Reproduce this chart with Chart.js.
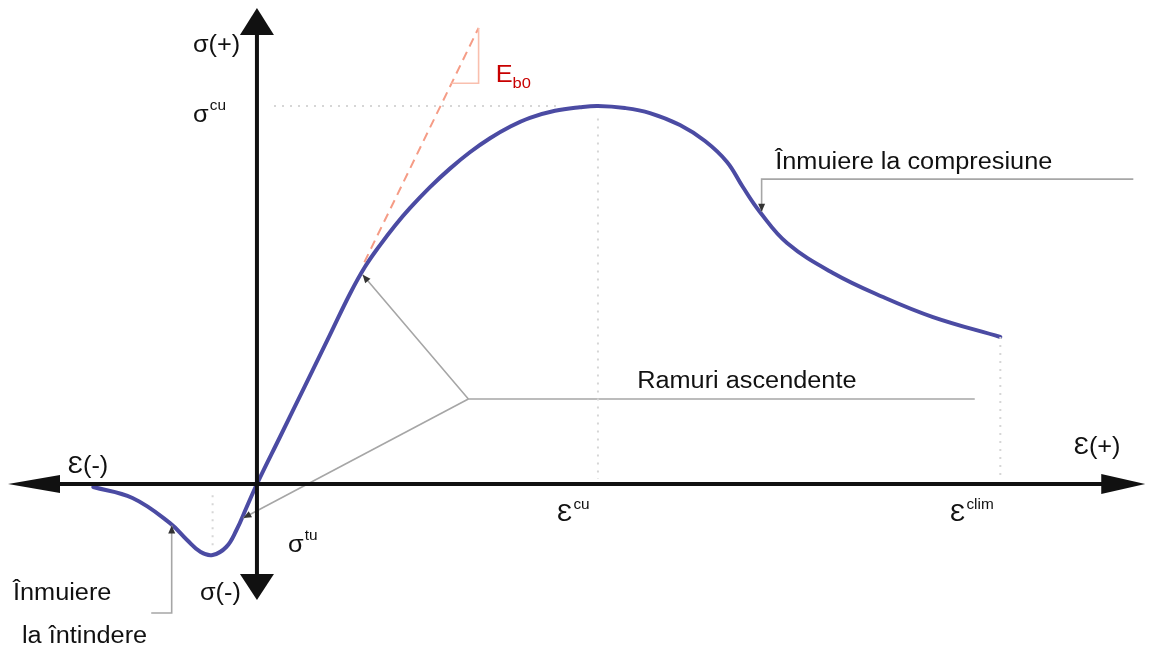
<!DOCTYPE html>
<html lang="ro">
<head>
<meta charset="utf-8">
<title>Diagrama efort - deformatie</title>
<script src="https://cdn.jsdelivr.net/npm/chart.js@4/dist/chart.umd.min.js"></script>
<style>
body { margin: 0; background: #fff; }
canvas { display: block; }
</style>
</head>
<body>
<canvas id="diagrama" width="1149" height="646"></canvas>
<script>
/* curba efort - deformatie: ε in ‰, σ in MPa */
var eps = [-0.96, -0.73, -0.51, -0.41, -0.33, -0.26, -0.18, -0.12, -0.06, 0,
    0.135, 0.282, 0.428, 0.545, 0.633, 0.721, 0.809, 0.897, 1.015, 1.132, 1.249,
    1.367, 1.484, 1.601, 1.748, 1.894, 2.0, 2.158, 2.305, 2.481, 2.628, 2.757, 2.85,
    2.95, 3.109, 3.378, 3.672, 3.965, 4.36];
var sigma = [-0.24, -1.11, -3.10, -4.44, -5.40, -5.63, -5.00, -3.65, -1.83, 0,
    3.73, 7.78, 11.83, 15.08, 17.22, 18.94, 20.50, 21.89, 23.56, 25.03, 26.33,
    27.44, 28.35, 29.06, 29.62, 29.90, 30.0, 29.84, 29.44, 28.49, 27.22, 25.56, 23.57,
    21.59, 19.13, 16.75, 14.84, 13.25, 11.67];

/* valori caracteristice */
var epsCu = 2.0;
var sigmaCu = 30.0;
var epsClim = 4.36;
var sigmaClim = 11.67;
var epsTu = -0.26;
var sigmaTu = -5.63;

/* tangenta initiala (modulul Eb0) si triunghiul pantei */
var tangEps = [0.63, 1.30];
var tangSigma = [17.6, 36.2];
var triEps = [1.14, 1.30, 1.30];
var triSigma = [31.8, 31.8, 36.2];

/* limitele axelor */
var epsMin = -1.507, epsMax = 5.232;
var sigmaMin = -12.857, sigmaMax = 38.413;

/* linii de indicatie catre curba */
var indicatii = [
    { x: [5.14, 2.96, 2.96], y: [24.2, 24.2, 21.6], sageata: true },
    { x: [4.21, 1.24, 0.62], y: [6.75, 6.75, 16.6], sageata: true },
    { x: [1.24, -0.08], y: [6.75, -2.7], sageata: true },
    { x: [-0.62, -0.50, -0.50], y: [-10.24, -10.24, -3.3], sageata: true }
];

/* texte: pozitia in coordonatele graficului */
var etichete = [
    { t: "σ(+)", x: -0.375, y: 34.3 },
    { t: "σ", sup: "cu", x: -0.375, y: 28.7 },
    { t: "E", sub: "b0", x: 1.4, y: 31.9, culoare: "#c80000" },
    { t: "Înmuiere la compresiune", x: 3.04, y: 25.0 },
    { t: "Ramuri ascendente", x: 2.23, y: 7.62 },
    { t: "Ɛ(+)", x: 4.79, y: 2.4 },
    { t: "Ɛ(-)", x: -1.11, y: 0.87 },
    { t: "Ɛ", sup: "cu", x: 1.76, y: -2.94 },
    { t: "Ɛ", sup: "clim", x: 4.065, y: -2.94 },
    { t: "σ", sup: "tu", x: 0.182, y: -5.4 },
    { t: "σ(-)", x: -0.334, y: -9.21 },
    { t: "Înmuiere", x: -1.431, y: -9.21 },
    { t: "la întindere", x: -1.378, y: -12.62 }
];

var FONT = '"Liberation Sans", Arial, sans-serif';

function puncte(xs, ys) {
    return xs.map(function (v, i) { return { x: v, y: ys[i] }; });
}

function linie(date, culoare, grosime, dash) {
    return {
        data: date,
        showLine: true,
        borderColor: culoare,
        borderWidth: grosime,
        borderDash: dash || [],
        pointRadius: 0,
        fill: false
    };
}

function sageataPlina(ctx, xv, yv, xb, yb, lung, lat) {
    // varf in (xv, yv), directia data de punctul (xb, yb)
    var dx = xv - xb, dy = yv - yb;
    var d = Math.sqrt(dx * dx + dy * dy);
    dx /= d; dy /= d;
    var bx = xv - dx * lung, by = yv - dy * lung;
    ctx.beginPath();
    ctx.moveTo(xv, yv);
    ctx.lineTo(bx - dy * lat, by + dx * lat);
    ctx.lineTo(bx + dy * lat, by - dx * lat);
    ctx.closePath();
    ctx.fill();
}

function scrie(ctx, e, px, py) {
    ctx.save();
    // literele sunt putin mai late decat fontul normal
    ctx.translate(px, py);
    ctx.scale(1.1, 1);
    ctx.fillStyle = e.culoare || "#111";
    ctx.textAlign = "left";
    ctx.textBaseline = "alphabetic";
    ctx.font = "23px " + FONT;
    ctx.fillText(e.t, 0, 0);
    var w = ctx.measureText(e.t).width;
    if (e.sup) {
        ctx.font = "14px " + FONT;
        ctx.fillText(e.sup, w + 1, -12);
    }
    if (e.sub) {
        ctx.font = "15px " + FONT;
        ctx.fillText(e.sub, w, 6);
    }
    ctx.restore();
}

var desenAxe = {
    id: "desenAxe",
    afterDatasetsDraw: function (chart) {
        var ctx = chart.ctx;
        var sx = chart.scales.x, sy = chart.scales.y;
        var x0 = sx.getPixelForValue(0), y0 = sy.getPixelForValue(0);
        var xSt = sx.getPixelForValue(-1.46), xDr = sx.getPixelForValue(5.21);
        var ySus = sy.getPixelForValue(37.78), yJos = sy.getPixelForValue(-9.21);
        ctx.save();

        // varfuri de sageata pe liniile de indicatie
        ctx.fillStyle = "#333";
        indicatii.forEach(function (ind) {
            if (!ind.sageata) return;
            var n = ind.x.length;
            sageataPlina(ctx,
                sx.getPixelForValue(ind.x[n - 1]), sy.getPixelForValue(ind.y[n - 1]),
                sx.getPixelForValue(ind.x[n - 2]), sy.getPixelForValue(ind.y[n - 2]), 8, 3.5);
        });

        // axele
        ctx.strokeStyle = "#111";
        ctx.fillStyle = "#111";
        ctx.lineWidth = 4;
        ctx.beginPath();
        ctx.moveTo(xSt + 30, y0);
        ctx.lineTo(xDr - 30, y0);
        ctx.moveTo(x0, ySus + 20);
        ctx.lineTo(x0, yJos - 20);
        ctx.stroke();
        sageataPlina(ctx, xSt, y0, xDr, y0, 52, 9);
        sageataPlina(ctx, xDr, y0, xSt, y0, 44, 10);
        sageataPlina(ctx, x0, ySus, x0, yJos, 27, 17);
        sageataPlina(ctx, x0, yJos, x0, ySus, 26, 17);

        // texte
        etichete.forEach(function (e) {
            scrie(ctx, e, sx.getPixelForValue(e.x), sy.getPixelForValue(e.y));
        });
        ctx.restore();
    }
};

function cargaDiagrama() {
    var seturi = [];
    // linii punctate de referinta
    var ghid = "#d6d6d6";
    seturi.push(linie(puncte([0.1, 1.76], [sigmaCu, sigmaCu]), ghid, 2, [2, 6]));
    seturi.push(linie(puncte([epsCu, epsCu], [sigmaCu - 1, 0.4]), ghid, 2, [2, 6]));
    seturi.push(linie(puncte([epsClim, epsClim], [sigmaClim, 0.4]), ghid, 2, [2, 6]));
    seturi.push(linie(puncte([epsTu, epsTu], [-0.9, sigmaTu + 0.4]), ghid, 2, [2, 6]));
    // linii de indicatie
    indicatii.forEach(function (ind) {
        seturi.push(linie(puncte(ind.x, ind.y), "#a6a6a6", 1.6));
    });
    // tangenta si triunghiul Eb0
    seturi.push(linie(puncte(triEps, triSigma), "#f9bfae", 1.6));
    seturi.push(linie(puncte(tangEps, tangSigma), "#f59c86", 2, [9, 6]));
    // curba propriu-zisa
    var curba = linie(puncte(eps, sigma), "#4b4ba3", 4);
    curba.tension = 0.4;
    curba.borderJoinStyle = "round";
    curba.borderCapStyle = "round";
    seturi.push(curba);

    var config = {
        type: "scatter",
        data: { datasets: seturi },
        options: {
            responsive: false,
            animation: false,
            layout: { padding: 0 },
            plugins: {
                legend: { display: false },
                tooltip: { enabled: false }
            },
            scales: {
                x: { type: "linear", min: epsMin, max: epsMax, display: false },
                y: { type: "linear", min: sigmaMin, max: sigmaMax, display: false }
            }
        },
        plugins: [desenAxe]
    };
    new Chart(document.getElementById("diagrama").getContext("2d"), config);
}

cargaDiagrama();
</script>
</body>
</html>
